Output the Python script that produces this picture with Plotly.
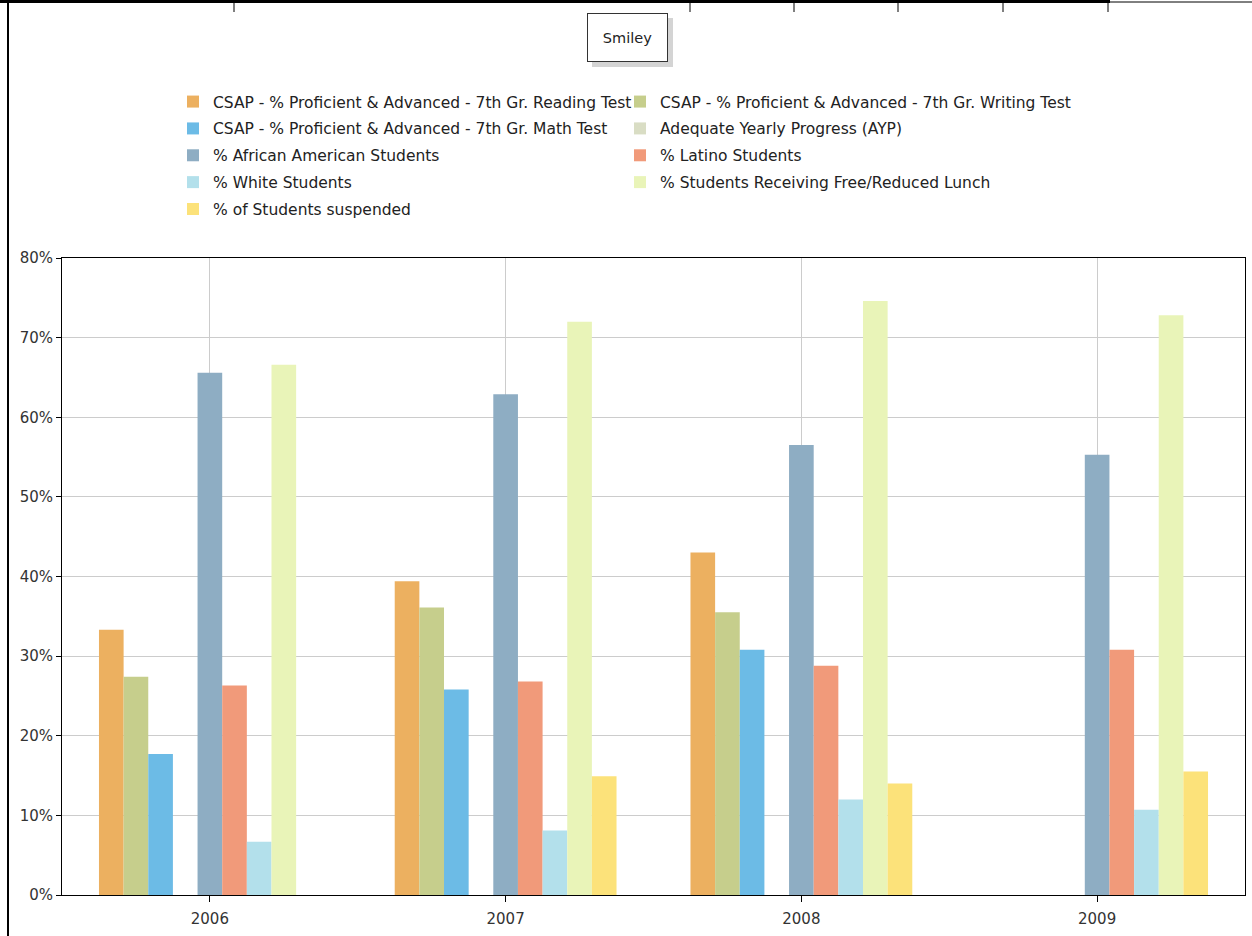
import plotly.graph_objects as go

years = ["2006", "2007", "2008", "2009"]

reading = [0.333, 0.394, 0.430, None]
writing = [0.274, 0.361, 0.355, None]
math = [0.177, 0.258, 0.308, None]
ayp = [None, None, None, None]
african_american = [0.656, 0.629, 0.565, 0.553]
latino = [0.263, 0.268, 0.288, 0.308]
white = [0.067, 0.081, 0.120, 0.107]
lunch = [0.666, 0.720, 0.746, 0.728]
suspended = [None, 0.149, 0.140, 0.155]

series = [
    ("CSAP - % Proficient & Advanced - 7th Gr. Reading Test", reading, "#ECB060", "legend"),
    ("CSAP - % Proficient & Advanced - 7th Gr. Writing Test", writing, "#C6CE8C", "legend2"),
    ("CSAP - % Proficient & Advanced - 7th Gr. Math Test", math, "#6CBBE6", "legend"),
    ("Adequate Yearly Progress (AYP)", ayp, "#D9DDC4", "legend2"),
    ("% African American Students", african_american, "#8EADC3", "legend"),
    ("% Latino Students", latino, "#F19A7A", "legend2"),
    ("% White Students", white, "#B3E0EB", "legend"),
    ("% Students Receiving Free/Reduced Lunch", lunch, "#E9F4B8", "legend2"),
    ("% of Students suspended", suspended, "#FCE27A", "legend"),
]

FONT = "DejaVu Sans"
W, H = 1252, 936
L, R, T, B = 62, 7, 258, 41
PW, PH = W - L - R, H - T - B


def px(xp):
    return (xp - L) / PW


def py(yp):
    return (H - B - yp) / PH


fig = go.Figure()
for i, (name, vals, color, leg) in enumerate(series):
    fig.add_trace(go.Bar(
        x=years, y=vals, name=name, legend=leg, legendgroup=f"g{i}",
        marker=dict(color=color, line=dict(width=0)),
    ))

legend_common = dict(
    orientation="v", traceorder="grouped", tracegroupgap=3.7,
    font=dict(family=FONT, size=15.5, color="#222"),
    bgcolor="rgba(0,0,0,0)", borderwidth=0,
    xanchor="left", yanchor="top", itemclick=False,
)

shapes = []
line_black = dict(color="black", width=1)
# left frame line of the screenshot
shapes.append(dict(type="line", xref="paper", yref="paper",
                   x0=px(8), x1=px(8), y0=py(H), y1=py(2), line=dict(color="black", width=2)))
# top border line
shapes.append(dict(type="line", xref="paper", yref="paper",
                   x0=px(0), x1=px(1110), y0=py(1.5), y1=py(1.5), line=dict(color="black", width=3)))
shapes.append(dict(type="line", xref="paper", yref="paper",
                   x0=px(1110), x1=px(W), y0=py(2), y1=py(2), line=dict(color="black", width=1)))
for xd in [234, 690, 794, 898, 1003, 1108]:
    shapes.append(dict(type="line", xref="paper", yref="paper",
                       x0=px(xd), x1=px(xd), y0=py(0), y1=py(12), line=line_black))

annotations = [
    dict(text=" ", xref="paper", yref="paper", x=px(627), y=py(38), xanchor="center", yanchor="middle",
         showarrow=False, width=71, height=39, borderpad=4, borderwidth=1,
         bordercolor="#d4d4d4", bgcolor="#d4d4d4", xshift=5, yshift=-5),
    dict(text="Smiley", xref="paper", yref="paper", x=px(627), y=py(38), xanchor="center", yanchor="middle",
         showarrow=False, width=71, height=39, borderpad=4, borderwidth=1,
         bordercolor="#333", bgcolor="white", font=dict(family=FONT, size=14.5, color="#222")),
]

fig.update_layout(
    width=W, height=H,
    margin=dict(l=L, r=R, t=T, b=B, autoexpand=False),
    paper_bgcolor="white", plot_bgcolor="white",
    barmode="group", bargap=0.25, bargroupgap=0,
    font=dict(family=FONT, size=14, color="#333"),
    showlegend=True,
    legend=dict(x=px(173), y=py(85), **legend_common),
    legend2=dict(x=px(620), y=py(85), **legend_common),
    shapes=shapes, annotations=annotations,
    xaxis=dict(type="category", showgrid=True, gridcolor="#cccccc", gridwidth=1,
               showline=True, linecolor="black", linewidth=1, mirror=True,
               ticks="outside", ticklen=6, tickcolor="black", ticklabelstandoff=4,
               tickfont=dict(family=FONT, size=15, color="#333")),
    yaxis=dict(range=[0, 0.8], dtick=0.1, tickformat=".0%", showgrid=True, gridcolor="#cccccc",
               showline=True, linecolor="black", linewidth=1, mirror=True,
               ticks="outside", ticklen=5, tickcolor="black", zeroline=False,
               tickfont=dict(family=FONT, size=15, color="#333")),
)

fig.write_html("out.html")
